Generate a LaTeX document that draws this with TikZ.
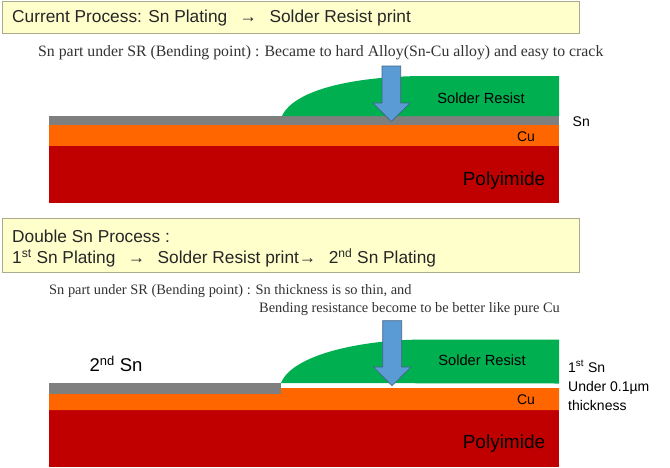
\documentclass[tikz,border=0pt]{standalone}
\usepackage{fontspec}
\setmainfont{Liberation Sans}
\newfontfamily\noteserif{Liberation Serif}
\usetikzlibrary{calc,positioning}
\definecolor{titlefill}{RGB}{255,255,204}
\definecolor{titleline}{RGB}{170,170,140}
\definecolor{srgreen}{RGB}{0,176,80}
\definecolor{snblack}{RGB}{127,127,127}
\definecolor{cuorange}{RGB}{255,102,0}
\definecolor{pired}{RGB}{192,0,0}
\definecolor{arrowblue}{RGB}{91,155,213}
\definecolor{arrowline}{RGB}{65,100,130}
\definecolor{notegray}{RGB}{50,50,50}
\tikzset{
    titlebox/.style={draw=titleline,fill=titlefill,line width=.8pt},
    titletext/.style={right,inner sep=0pt,font=\fontsize{17.3}{20}\selectfont,text=black!85},
    notetext/.style={right,inner sep=0pt,text=notegray,font=\noteserif\fontsize{15.8}{18}\selectfont},
    smallnote/.style={notetext,font=\noteserif\fontsize{14.4}{17}\selectfont},
    labeltext/.style={inner sep=0pt,text=black},
    sidetext/.style={labeltext,anchor=base west,font=\fontsize{14}{16}\selectfont},
    downarrow/.style={draw=arrowline,fill=arrowblue,line width=.6pt}
}
\begin{document}
\begin{tikzpicture}[x=1pt,y=-1pt]
                \useasboundingbox (0,0) rectangle (670,467);
                % current process
                \draw[titlebox] (2,1) rectangle (579,33);
                \node[titletext] (title1) at (12,18.5) {Current Process: Sn Plating \ $\,$→\ $\,$ Solder Resist print};
                \node[notetext] (note1) at (38,53) {Sn part under SR (Bending point) : Became to hard Alloy(Sn-Cu alloy) and easy to crack};
                \fill[pired] (49,146) rectangle (559,203);
                \fill[cuorange] (49,125) rectangle (559,146);
                \fill[snblack] (49,116) rectangle (559,125);
                \fill[srgreen] (282,116) .. controls (295,88) and (360,76) .. (426,76) -- (559,76) -- (559,116) -- cycle;
                \draw[downarrow] (382,66) -- (400.7,66) -- (400.7,103) -- (410,103) -- (391.3,121.5) -- (373,103) -- (382,103) -- cycle;
                \node[labeltext] (sr1) at (481,98) {\fontsize{14.7}{17}\selectfont Solder Resist};
                \node[labeltext] (cu1) at (526,137) {\fontsize{14}{16}\selectfont Cu};
                \node[labeltext] (pi1) at (504,180.5) {\fontsize{19}{22}\selectfont Polyimide};
                \node[sidetext] (sn1) at (572.5,126) {Sn};
                % double sn process
                \draw[titlebox] (2,218) rectangle (579,272);
                \node[titletext] (title2) at (12,236) {Double Sn Process :};
                \node[titletext] (title3) at (12,258) {1\textsuperscript{st} Sn Plating \ $\,$→\ $\,$ Solder Resist print→\ $\,$ 2\textsuperscript{nd} Sn Plating};
                \node[smallnote] (note2) at (49,291) {Sn part under SR (Bending point) : Sn thickness is so thin, and};
                \node[smallnote] (note3) at (259,309.5) {Bending resistance become to be better like pure Cu};
                \fill[pired] (49,410) rectangle (559,467);
                \fill[cuorange] (49,394) -- (281,394) -- (281,388) -- (559,388) -- (559,410) -- (49,410) -- cycle;
                \fill[snblack] (49,383) rectangle (281,394);
                \fill[srgreen] (281,383) .. controls (292,355) and (360,339.5) .. (426,339.5) -- (559,339.5) -- (559,383.5) -- cycle;
                \draw[downarrow] (382.7,320.7) -- (401.7,320.7) -- (401.7,367) -- (411,367) -- (392,385.7) -- (373.5,367) -- (382.7,367) -- cycle;
                \node[labeltext] (sn2) at (116,364) {\fontsize{18.5}{22}\selectfont 2\textsuperscript{nd} Sn};
                \node[labeltext] (sr2) at (482,360) {\fontsize{14.7}{17}\selectfont Solder Resist};
                \node[labeltext] (cu2) at (526,400) {\fontsize{14}{16}\selectfont Cu};
                \node[labeltext] (pi2) at (504,443.5) {\fontsize{19}{22}\selectfont Polyimide};
                \node[sidetext] (sn3) at (568,372) {1\textsuperscript{st} Sn};
                \node[sidetext] (under) at (568,391) {Under 0.1µm};
                \node[sidetext] (thick) at (568,410) {thickness};
\end{tikzpicture}
\end{document}
